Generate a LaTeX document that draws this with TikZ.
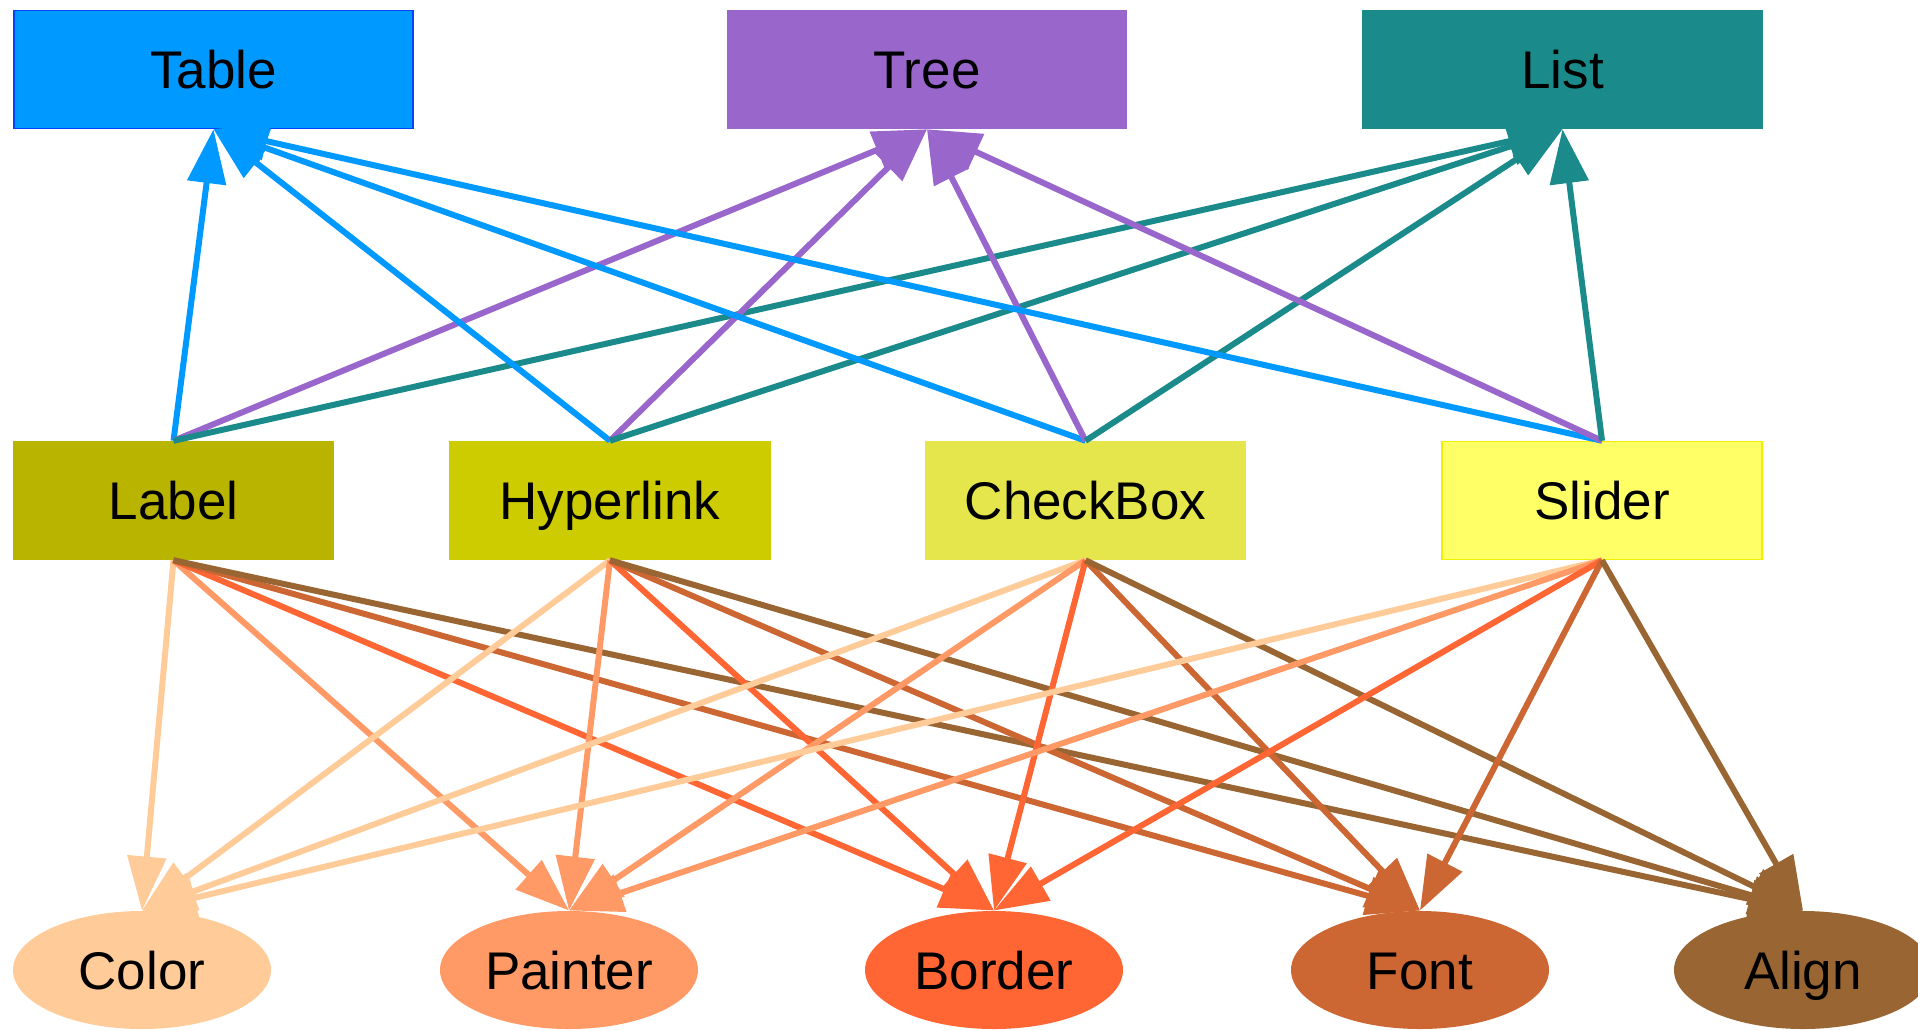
\documentclass[tikz,border=0pt]{standalone}
\usepackage{fontspec}
\setmainfont{Liberation Sans}
\usetikzlibrary{arrows.meta,shapes.geometric}
\definecolor{cTable}{HTML}{0099FF}
\definecolor{cTableB}{HTML}{0044FF}
\definecolor{cTree}{HTML}{9966CC}
\definecolor{cList}{HTML}{1A8A8A}
\definecolor{cLabel}{HTML}{B8B400}
\definecolor{cHyper}{HTML}{CCCC00}
\definecolor{cCheck}{HTML}{E5E54C}
\definecolor{cSlider}{HTML}{FFFF66}
\definecolor{cSliderB}{HTML}{F0F000}
\definecolor{cColor}{HTML}{FFCC99}
\definecolor{cPainter}{HTML}{FF9966}
\definecolor{cBorder}{HTML}{FF6633}
\definecolor{cFont}{HTML}{CC6633}
\definecolor{cAlign}{HTML}{996633}
\begin{document}
\begin{tikzpicture}[x=1pt,y=-1pt,
  every node/.style={font=\fontsize{53}{60}\selectfont, text=black, inner sep=0pt, text height=38pt, text depth=0pt},
  boxnode/.style={rectangle, minimum width=320pt, minimum height=118pt, line width=1.5pt},
  ellnode/.style={ellipse, minimum width=258pt, minimum height=118pt, line width=1pt},
  conn/.style={line width=6pt, -{Triangle[length=54pt,width=38pt]}}
]
\useasboundingbox (0,0) rectangle (1918,1029);
% top row
\node[boxnode, minimum width=399pt, fill=cTable, draw=cTableB] (table) at (213.5,69.5) {Table};
\node[boxnode, minimum width=398pt, fill=cTree, draw=cTree] (tree) at (927,69.5) {Tree};
\node[boxnode, minimum width=400pt, fill=cList, draw=cList] (list) at (1562.5,69.5) {List};
% middle row
\node[boxnode, fill=cLabel, draw=cLabel] (label) at (173.5,500.5) {Label};
\node[boxnode, fill=cHyper, draw=cHyper] (hyper) at (610,500.5) {Hyperlink};
\node[boxnode, fill=cCheck, draw=cCheck] (check) at (1085.5,500.5) {CheckBox};
\node[boxnode, fill=cSlider, draw=cSliderB] (slider) at (1602,500.5) {Slider};
% bottom row
\node[ellnode, fill=cColor] (color) at (142,970) {Color};
\node[ellnode, fill=cPainter] (painter) at (569,970) {Painter};
\node[ellnode, fill=cBorder] (border) at (994,970) {Border};
\node[ellnode, fill=cFont] (font) at (1420,970) {Font};
\node[ellnode, fill=cAlign] (align) at (1803,970) {Align};
% edges to top row
\foreach \s in {label,hyper,check,slider}{
  \draw[conn, cTable] (\s.north) -- (table.south);
  \draw[conn, cTree] (\s.north) -- (tree.south);
  \draw[conn, cList] (\s.north) -- (list.south);
}
% edges to bottom row
\foreach \s in {label,hyper,check,slider}{
  \draw[conn, cColor] (\s.south) -- (color.north);
  \draw[conn, cPainter] (\s.south) -- (painter.north);
  \draw[conn, cBorder] (\s.south) -- (border.north);
  \draw[conn, cFont] (\s.south) -- (font.north);
  \draw[conn, cAlign] (\s.south) -- (align.north);
}
\end{tikzpicture}
\end{document}
